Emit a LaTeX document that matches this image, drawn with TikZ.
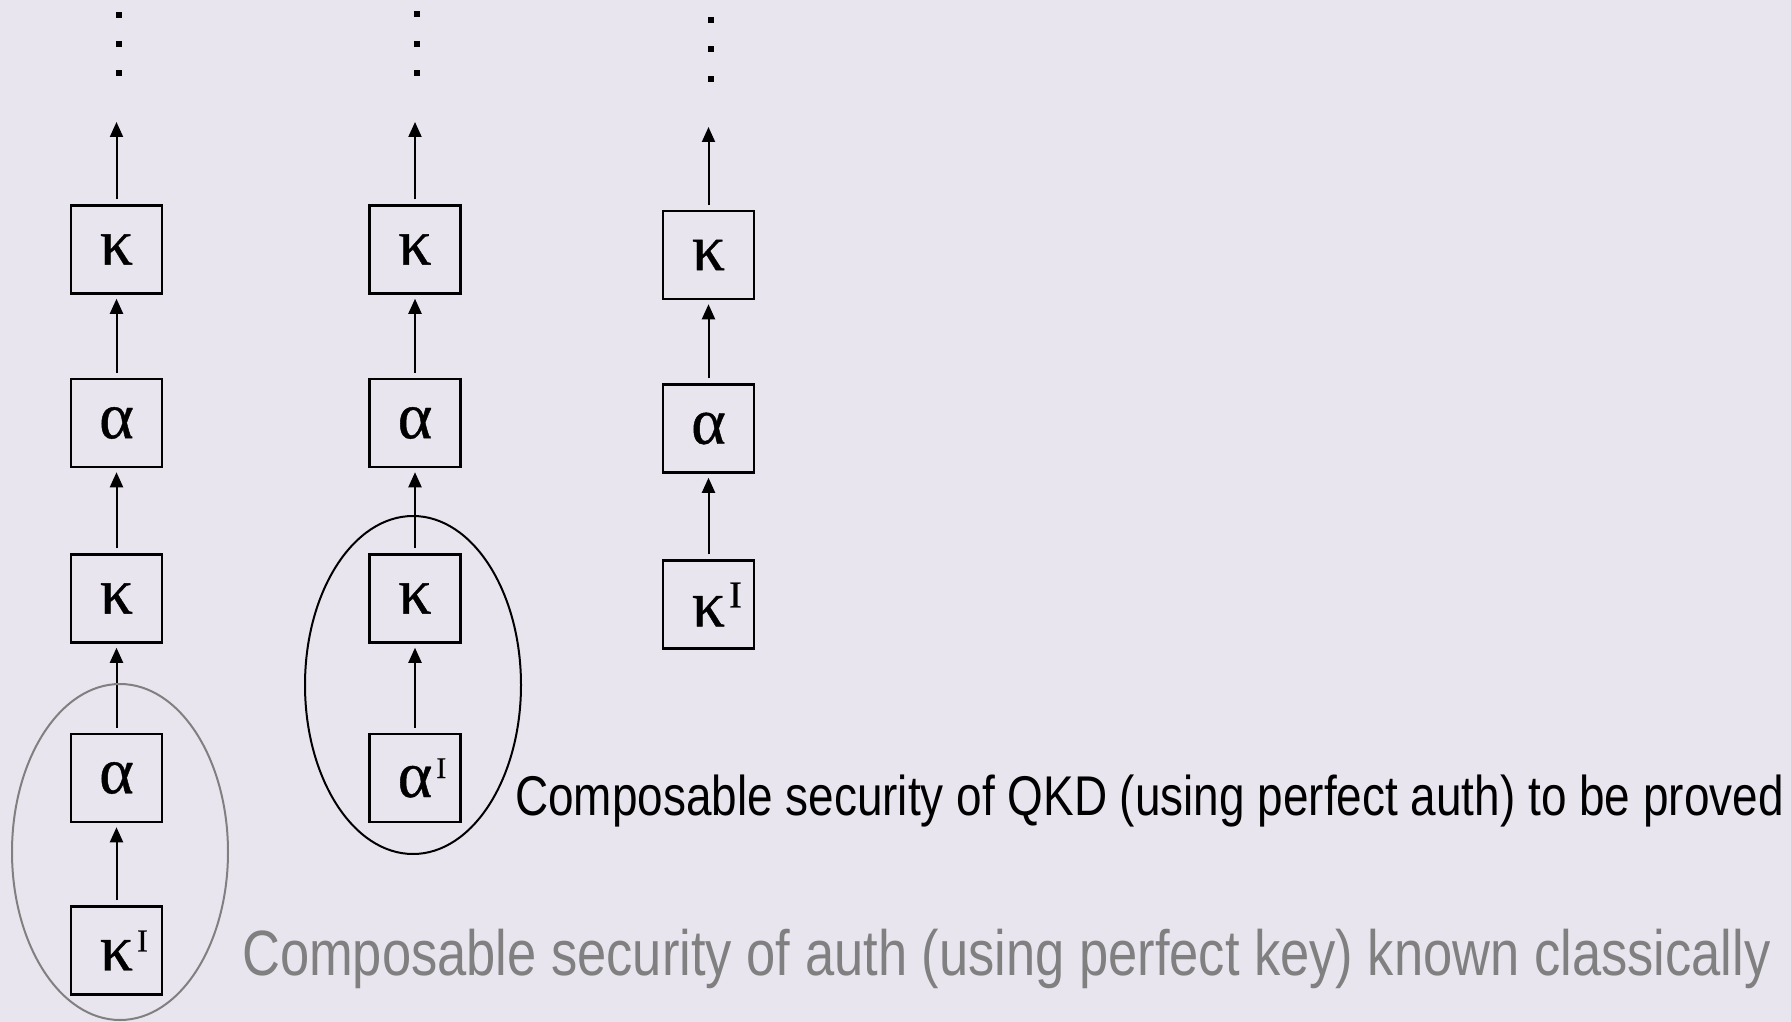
\documentclass[tikz,border=0pt]{standalone}
\usepackage{fontspec}
\usetikzlibrary{arrows.meta}
\newfontfamily\labelfont[FakeStretch=0.82]{Liberation Sans}
\newfontfamily\symfont[FakeBold=0.6]{Liberation Serif}
\definecolor{bgcol}{RGB}{233,229,239}
\definecolor{greytext}{RGB}{128,128,128}
\newcommand{\sym}[1]{{\symfont\fontsize{66}{66}\selectfont #1}}
\newcommand{\ideal}[2]{{\symfont\fontsize{66}{66}\selectfont #1\rlap{\hspace{4pt}\raisebox{19pt}{\fontsize{#2}{#2}\selectfont I}}}}
\begin{document}
\begin{tikzpicture}[x=1pt,y=-1pt,
  blk/.style={draw=black,line width=2.5pt,minimum width=91pt,minimum height=88pt,inner sep=0pt},
  link/.style={line width=2pt,-{Triangle[width=13pt,length=15pt]},shorten <=5pt,shorten >=4pt},
  dotmark/.style={fill=black,minimum width=6pt,minimum height=6pt,inner sep=0pt},
  bigtext/.style={anchor=base west,inner sep=0pt}]
\fill[bgcol] (0,0) rectangle (1791,1022);
\useasboundingbox (0,0) rectangle (1791,1022);

% first chain
\node[blk] (a5) at (116.5,249.5) {\sym{κ}};
\node[blk] (a4) at (116.5,423) {\sym{α}};
\node[blk] (a3) at (116.5,598.5) {\sym{κ}};
\node[blk] (a2) at (116.5,778) {\sym{α}};
\node[blk] (a1) at (116.5,950.5) {\ideal{κ}{32}};
\coordinate (atop) at (116.5,122);
\node[dotmark] (ad1) at (119,15) {};
\node[dotmark] (ad2) at (119,44) {};
\node[dotmark] (ad3) at (119,73) {};
\draw[link] (a1) -- (a2);
\draw[link] (a2) -- (a3);
\draw[link] (a3) -- (a4);
\draw[link] (a4) -- (a5);
\draw[link,shorten >=0pt] (a5) -- (atop);

% second chain
\node[blk] (b4) at (415,249.5) {\sym{κ}};
\node[blk] (b3) at (415,423) {\sym{α}};
\node[blk] (b2) at (415,598.5) {\sym{κ}};
\node[blk] (b1) at (415,778) {\ideal{α}{30}};
\coordinate (btop) at (415,122);
\node[dotmark] (bd1) at (417,14) {};
\node[dotmark] (bd2) at (417,44) {};
\node[dotmark] (bd3) at (417,73) {};
\draw[link] (b1) -- (b2);
\draw[link] (b2) -- (b3);
\draw[link] (b3) -- (b4);
\draw[link,shorten >=0pt] (b4) -- (btop);

% third chain
\node[blk] (c3) at (708.5,255) {\sym{κ}};
\node[blk] (c2) at (708.5,428.5) {\sym{α}};
\node[blk] (c1) at (708.5,604.5) {\ideal{κ}{38}};
\coordinate (ctop) at (708.5,127);
\node[dotmark] (cd1) at (711,20) {};
\node[dotmark] (cd2) at (711,49) {};
\node[dotmark] (cd3) at (711,79) {};
\draw[link] (c1) -- (c2);
\draw[link] (c2) -- (c3);
\draw[link,shorten >=0pt] (c3) -- (ctop);

% groupings
\draw[greytext,line width=2pt] (120,852) ellipse [x radius=108, y radius=168];
\draw[black,line width=2pt] (413,685) ellipse [x radius=108, y radius=169];

% statements
\node[bigtext] (qkd) at (515,815) {\labelfont\fontsize{56}{60}\selectfont Composable security of QKD (using perfect auth) to be proved};
\node[bigtext,text=greytext] (auth) at (242,975) {\labelfont\fontsize{64}{70}\selectfont Composable security of auth (using perfect key) known classically};
\end{tikzpicture}
\end{document}
